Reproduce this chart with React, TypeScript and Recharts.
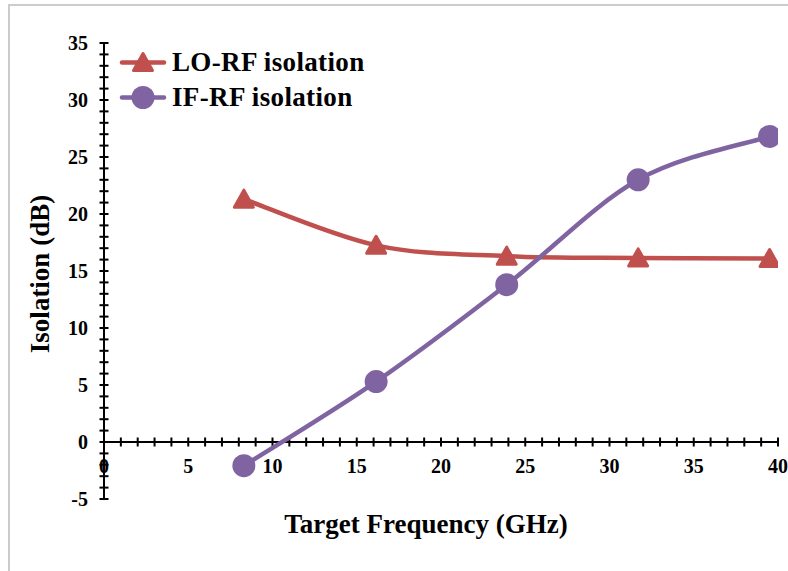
import React from "react";
import {
  LineChart,
  Line,
  XAxis,
  YAxis,
  ReferenceLine,
  Legend,
} from "recharts";

// ---- data ----
const FREQ_GHZ = [8.3, 16.15, 23.9, 31.7, 39.5];
const LO_RF_ISOLATION = [21.3, 17.25, 16.3, 16.15, 16.1];
const IF_RF_ISOLATION = [-2.08, 5.3, 13.8, 23.0, 26.8];

const X_DOMAIN: [number, number] = [0, 40];
const Y_DOMAIN: [number, number] = [-5, 35];
const X_TICK_LABELS = [0, 5, 10, 15, 20, 25, 30, 35, 40];
const X_MINOR_TICKS = Array.from({ length: 41 }, (_, i) => i);
const Y_MINOR_TICKS = Array.from({ length: 41 }, (_, i) => i - 5);

const SERIES_ORDER = ["lo", "if"];
const SERIES_NAMES = { lo: "LO-RF isolation", if: "IF-RF isolation" };

const data = FREQ_GHZ.map((f, i) => ({
  freq: f,
  lo: LO_RF_ISOLATION[i],
  if: IF_RF_ISOLATION[i],
}));

const RED = "#C0504D";
const PURPLE = "#8064A2";
const FONT = "'Liberation Serif', 'Times New Roman', serif";

// Excel-like smoothing (Catmull-Rom through the points)
const smoothCurve: any = (context: any) => {
  let pts: number[][] = [];
  return {
    areaStart() {},
    areaEnd() {},
    lineStart() {
      pts = [];
    },
    point(x: number, y: number) {
      pts.push([+x, +y]);
    },
    lineEnd() {
      if (!pts.length) return;
      context.moveTo(pts[0][0], pts[0][1]);
      for (let i = 0; i < pts.length - 1; i++) {
        const p0 = pts[i - 1] || pts[i];
        const p1 = pts[i];
        const p2 = pts[i + 1];
        const p3 = pts[i + 2] || p2;
        context.bezierCurveTo(
          p1[0] + (p2[0] - p0[0]) / 6,
          p1[1] + (p2[1] - p0[1]) / 6,
          p2[0] - (p3[0] - p1[0]) / 6,
          p2[1] - (p3[1] - p1[1]) / 6,
          p2[0],
          p2[1]
        );
      }
    },
  };
};

const Triangle = ({ cx, cy, color }: any) => (
  <path
    d={`M${cx},${cy - 9} L${cx + 9.5},${cy + 8} L${cx - 9.5},${cy + 8} Z`}
    fill={color}
    stroke={color}
    strokeWidth={3}
    strokeLinejoin="round"
  />
);

const TriangleDot = (props: any) => {
  const { cx, cy, index } = props;
  if (cx == null || cy == null) return <g key={index} />;
  return <Triangle key={index} cx={cx} cy={cy} color={RED} />;
};

const YTick = (props: any) => {
  const { x, y, payload } = props;
  const v = payload.value;
  return (
    <g>
      <line x1={x - 4.5} x2={x + 4.5} y1={y} y2={y} stroke="#000" strokeWidth={2} />
      {v % 5 === 0 && (
        <text
          x={x - 16}
          y={y}
          textAnchor="end"
          dominantBaseline="central"
          fontFamily={FONT}
          fontWeight="bold"
          fontSize={20}
          fill="#000"
        >
          {v}
        </text>
      )}
    </g>
  );
};

// x axis drawn where y = 0
const XAxisAtZero = (props: any) => {
  const { x1, x2, y1 } = props;
  const sx = (v: number) =>
    x1 + ((v - X_DOMAIN[0]) / (X_DOMAIN[1] - X_DOMAIN[0])) * (x2 - x1);
  return (
    <g>
      <line x1={x1} x2={x2} y1={y1} y2={y1} stroke="#000" strokeWidth={2} />
      {X_MINOR_TICKS.map((v) => (
        <line
          key={"t" + v}
          x1={sx(v)}
          x2={sx(v)}
          y1={y1 - 4.5}
          y2={y1 + 4.5}
          stroke="#000"
          strokeWidth={2}
        />
      ))}
      {X_TICK_LABELS.map((v) => (
        <text
          key={"l" + v}
          x={sx(v)}
          y={y1 + 24}
          textAnchor="middle"
          dominantBaseline="central"
          fontFamily={FONT}
          fontWeight="bold"
          fontSize={20}
          fill="#000"
        >
          {v}
        </text>
      ))}
    </g>
  );
};

const YTitle = (props: any) => {
  const { viewBox } = props;
  const cx = viewBox.x - 4;
  const cy = viewBox.y + viewBox.height / 2 + 3;
  return (
    <text
      x={cx}
      y={cy}
      transform={`rotate(-90, ${cx}, ${cy})`}
      textAnchor="middle"
      dominantBaseline="central"
      fontFamily={FONT}
      fontWeight="bold"
      fontSize={27}
      fill="#000"
    >
      Isolation (dB)
    </text>
  );
};

const XTitle = (props: any) => {
  const { viewBox } = props;
  return (
    <text
      x={viewBox.x + viewBox.width / 2 - 15}
      y={viewBox.y + 34}
      textAnchor="middle"
      fontFamily={FONT}
      fontWeight="bold"
      fontSize={27}
      fill="#000"
    >
      Target Frequency (GHz)
    </text>
  );
};

const LegendContent = (props: any) => {
  const payload = [...(props.payload || [])].sort(
    (a: any, b: any) => SERIES_ORDER.indexOf(a.dataKey) - SERIES_ORDER.indexOf(b.dataKey)
  );
  return (
    <div
      style={{
        fontFamily: FONT,
        fontWeight: "bold",
        fontSize: 27,
        letterSpacing: 0.35,
        color: "#000",
      }}
    >
      {payload.map((e: any) => (
        <div
          key={e.dataKey}
          style={{ display: "flex", alignItems: "center", height: 35, whiteSpace: "nowrap" }}
        >
          <svg width={50} height={35} style={{ display: "block" }}>
            <line x1={4} x2={46} y1={17.5} y2={17.5} stroke={e.color} strokeWidth={4.5} strokeLinecap="round" />
            {e.dataKey === "lo" ? (
              <Triangle cx={25} cy={17.5} color={e.color} />
            ) : (
              <circle cx={25} cy={17.5} r={11.5} fill={e.color} />
            )}
          </svg>
          <span style={{ marginLeft: 4, lineHeight: "35px" }}>{e.value}</span>
        </div>
      ))}
    </div>
  );
};

export default function App() {
  return (
    <div
      style={{
        position: "absolute",
        left: 0,
        top: 0,
        width: 788,
        height: 571,
        overflow: "hidden",
        background: "#fff",
      }}
    >
      <div
        style={{
          position: "absolute",
          left: 7.5,
          top: 4,
          width: 800,
          height: 600,
          borderTop: "2px solid #cccccc",
          borderLeft: "2px solid #cccccc",
        }}
      />
      <div style={{ position: "absolute", left: 0, top: 0 }}>
        <LineChart
          width={788}
          height={571}
          data={data}
          margin={{ top: 43, right: 10, bottom: 0, left: 44 }}
        >
          <XAxis
            type="number"
            dataKey="freq"
            domain={X_DOMAIN}
            allowDataOverflow
            axisLine={false}
            tickLine={false}
            tick={false}
            height={72}
            label={XTitle}
          />
          <YAxis
            type="number"
            domain={Y_DOMAIN}
            ticks={Y_MINOR_TICKS}
            interval={0}
            allowDataOverflow
            width={60}
            axisLine={{ stroke: "#000", strokeWidth: 2 }}
            tickLine={false}
            tickSize={0}
            tickMargin={0}
            tick={YTick}
            label={YTitle}
          />
          <ReferenceLine y={0} shape={XAxisAtZero} />
          <Legend
            layout="horizontal"
            verticalAlign="middle"
            align="center"
            content={LegendContent}
            wrapperStyle={{ left: 118, top: 45, width: "auto", bottom: "auto" }}
          />
          <Line
            dataKey="lo"
            name={SERIES_NAMES.lo}
            stroke={RED}
            strokeWidth={4.5}
            type={smoothCurve}
            dot={TriangleDot}
            activeDot={false}
            isAnimationActive={false}
          />
          <Line
            dataKey="if"
            name={SERIES_NAMES.if}
            stroke={PURPLE}
            strokeWidth={4.5}
            type={smoothCurve}
            dot={{ r: 11.5, fill: PURPLE, stroke: "none" }}
            activeDot={false}
            isAnimationActive={false}
          />
        </LineChart>
      </div>
    </div>
  );
}
